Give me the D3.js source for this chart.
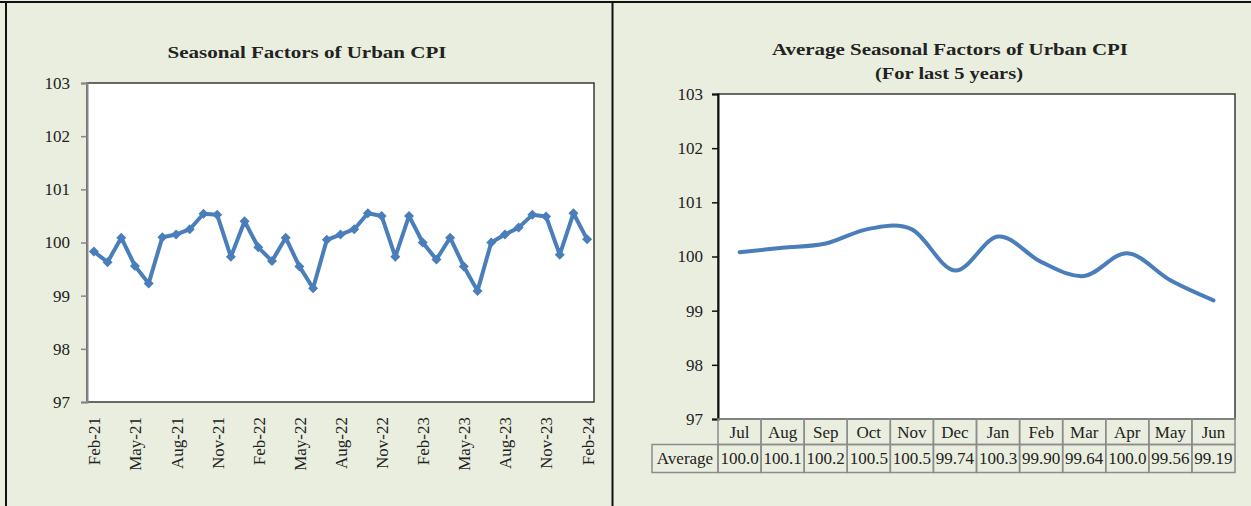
<!DOCTYPE html>
<html>
<head>
<meta charset="utf-8">
<script src="https://cdn.jsdelivr.net/npm/d3@7"></script>
<style>
  body { margin: 0; background: #eaeede; }
  svg text { font-family: "Liberation Serif", "Times New Roman", serif; font-size: 17px; fill: #222; }
</style>
</head>
<body>
<div id="chart"></div>
<script>
// monthly seasonal factors, Feb-21 .. Feb-24
var months = ["Feb-21","Mar-21","Apr-21","May-21","Jun-21","Jul-21","Aug-21","Sep-21","Oct-21","Nov-21","Dec-21","Jan-22",
  "Feb-22","Mar-22","Apr-22","May-22","Jun-22","Jul-22","Aug-22","Sep-22","Oct-22","Nov-22","Dec-22","Jan-23",
  "Feb-23","Mar-23","Apr-23","May-23","Jun-23","Jul-23","Aug-23","Sep-23","Oct-23","Nov-23","Dec-23","Jan-24","Feb-24"];
var urbanSF = [99.83,99.63,100.09,99.56,99.23,100.10,100.15,100.25,100.54,100.52,99.73,100.40,
  99.91,99.65,100.09,99.55,99.14,100.05,100.15,100.25,100.55,100.50,99.73,100.50,
  100.00,99.68,100.09,99.55,99.09,100.00,100.15,100.28,100.52,100.49,99.77,100.55,100.06];
var monthTicks = ["Feb-21","May-21","Aug-21","Nov-21","Feb-22","May-22","Aug-22","Nov-22","Feb-23","May-23","Aug-23","Nov-23","Feb-24"];

// average seasonal factors (last 5 years)
var avgMonths = ["Jul","Aug","Sep","Oct","Nov","Dec","Jan","Feb","Mar","Apr","May","Jun"];
var avgSF = [100.08,100.16,100.24,100.51,100.50,99.74,100.37,99.90,99.64,100.06,99.56,99.19];

var yTicks = [97,98,99,100,101,102,103];

var blue = "#4a7ebb";

var svg = d3.select("#chart").append("svg").attr("width", 1251).attr("height", 506);
svg.append("rect").attr("width", 1251).attr("height", 506).attr("fill", "#eaeede");

// frame lines
svg.append("line").attr("x1", 0).attr("x2", 1251).attr("y1", 2).attr("y2", 2).attr("stroke", "#111").attr("stroke-width", 2);
svg.append("line").attr("x1", 6).attr("x2", 6).attr("y1", 2).attr("y2", 506).attr("stroke", "#111").attr("stroke-width", 2);
svg.append("line").attr("x1", 612.5).attr("x2", 612.5).attr("y1", 2).attr("y2", 506).attr("stroke", "#111").attr("stroke-width", 2);

// ---------- left chart ----------
var L = {left: 87, right: 594, top: 83, bottom: 402};

var x1 = d3.scalePoint().domain(months).range([L.left, L.right]).padding(0.5);
var y1 = d3.scaleLinear().domain([97, 103]).range([L.bottom, L.top]);

svg.append("text")
    .attr("x", 307).attr("y", 58)
    .attr("text-anchor", "middle")
    .style("font-weight", "bold")
    .attr("textLength", 279).attr("lengthAdjust", "spacingAndGlyphs")
    .text("Seasonal Factors of  Urban CPI");

svg.append("rect")
    .attr("x", L.left).attr("y", L.top)
    .attr("width", L.right - L.left).attr("height", L.bottom - L.top)
    .attr("fill", "#fff").attr("stroke", "#3a3a3a").attr("stroke-width", 1.5);

var gy1 = svg.append("g")
    .attr("transform", "translate(" + L.left + ",0)")
    .call(d3.axisLeft(y1).tickValues(yTicks).tickSize(6).tickPadding(11).tickFormat(d3.format("d")))
    .attr("font-family", null).attr("font-size", null);
gy1.select(".domain").attr("stroke", "#868686").attr("stroke-width", 2);
gy1.selectAll(".tick line").attr("stroke", "#868686").attr("stroke-width", 1.5);

var gx1 = svg.append("g")
    .attr("transform", "translate(0," + L.bottom + ")")
    .call(d3.axisBottom(x1).tickValues(monthTicks).tickSize(0))
    .attr("font-family", null).attr("font-size", null);
gx1.select(".domain").remove();
gx1.selectAll("text")
    .attr("transform", "rotate(-90)")
    .attr("x", -15).attr("y", 0).attr("dy", "0.35em")
    .style("text-anchor", "end");

svg.append("path")
    .datum(urbanSF)
    .attr("fill", "none")
    .attr("stroke", blue).attr("stroke-width", 4)
    .attr("stroke-linejoin", "round").attr("stroke-linecap", "round")
    .attr("d", d3.line()
        .x(function(d, i) { return x1(months[i]); })
        .y(function(d) { return y1(d); }));

svg.append("g").selectAll("path")
    .data(urbanSF)
    .enter().append("path")
    .attr("d", d3.symbol().type(d3.symbolSquare).size(50))
    .attr("transform", function(d, i) { return "translate(" + x1(months[i]) + "," + y1(d) + ") rotate(45)"; })
    .attr("fill", blue);

// ---------- right chart ----------
var R = {left: 718, right: 1235, top: 94, bottom: 419};

var x2 = d3.scaleBand().domain(avgMonths).range([R.left, R.right]);
var y2 = d3.scaleLinear().domain([97, 103]).range([R.bottom, R.top]);
var bw = x2.bandwidth();

svg.append("text")
    .attr("x", 950).attr("y", 55)
    .attr("text-anchor", "middle")
    .style("font-weight", "bold")
    .attr("textLength", 356).attr("lengthAdjust", "spacingAndGlyphs")
    .text("Average Seasonal Factors of  Urban CPI");
svg.append("text")
    .attr("x", 949).attr("y", 79)
    .attr("text-anchor", "middle")
    .style("font-weight", "bold")
    .attr("textLength", 148).attr("lengthAdjust", "spacingAndGlyphs")
    .text("(For last 5 years)");

svg.append("rect")
    .attr("x", R.left).attr("y", R.top)
    .attr("width", R.right - R.left).attr("height", R.bottom - R.top)
    .attr("fill", "#fff").attr("stroke", "#3a3a3a").attr("stroke-width", 1.5);

var gy2 = svg.append("g")
    .attr("transform", "translate(" + R.left + ",0)")
    .call(d3.axisLeft(y2).tickValues(yTicks).tickSize(6).tickPadding(9).tickFormat(d3.format("d")))
    .attr("font-family", null).attr("font-size", null);
gy2.select(".domain").attr("stroke", "#111").attr("stroke-width", 2);
gy2.selectAll(".tick line").attr("stroke", "#111").attr("stroke-width", 1.5);

svg.append("path")
    .datum(avgSF)
    .attr("fill", "none")
    .attr("stroke", blue).attr("stroke-width", 4)
    .attr("stroke-linecap", "round")
    .attr("d", d3.line()
        .curve(d3.curveCardinal.tension(0))
        .x(function(d, i) { return x2(avgMonths[i]) + bw / 2; })
        .y(function(d) { return y2(d); }));

// data table under the right chart
var rowTop = 419, rowH = 25.5, tbl = svg.append("g");
var tableBorder = "#8c8c8c";

tbl.selectAll("rect.head")
    .data(avgMonths)
    .enter().append("rect")
    .attr("class", "head")
    .attr("x", function(d) { return x2(d); }).attr("y", rowTop)
    .attr("width", bw).attr("height", rowH)
    .attr("fill", "none").attr("stroke", tableBorder).attr("stroke-width", 1.5);
tbl.selectAll("text.head")
    .data(avgMonths)
    .enter().append("text")
    .attr("class", "head")
    .attr("x", function(d) { return x2(d) + bw / 2; }).attr("y", rowTop + rowH / 2)
    .attr("dy", "0.35em").attr("text-anchor", "middle")
    .text(function(d) { return d; });

var row2 = rowTop + rowH;
tbl.append("rect")
    .attr("x", 652).attr("y", row2)
    .attr("width", R.left - 652).attr("height", 28)
    .attr("fill", "none").attr("stroke", tableBorder).attr("stroke-width", 1.5);
tbl.append("text")
    .attr("x", (652 + R.left) / 2).attr("y", row2 + 14)
    .attr("dy", "0.35em").attr("text-anchor", "middle")
    .text("Average");
tbl.selectAll("rect.val")
    .data(avgSF)
    .enter().append("rect")
    .attr("class", "val")
    .attr("x", function(d, i) { return x2(avgMonths[i]); }).attr("y", row2)
    .attr("width", bw).attr("height", 28)
    .attr("fill", "none").attr("stroke", tableBorder).attr("stroke-width", 1.5);
tbl.selectAll("text.val")
    .data(avgSF)
    .enter().append("text")
    .attr("class", "val")
    .attr("x", function(d, i) { return x2(avgMonths[i]) + bw / 2; }).attr("y", row2 + 14)
    .attr("dy", "0.35em").attr("text-anchor", "middle")
    // cells are narrow, so the value is cut to five characters like the sheet shows
    .text(function(d) { return d.toFixed(2).slice(0, 5); });
</script>
</body>
</html>
